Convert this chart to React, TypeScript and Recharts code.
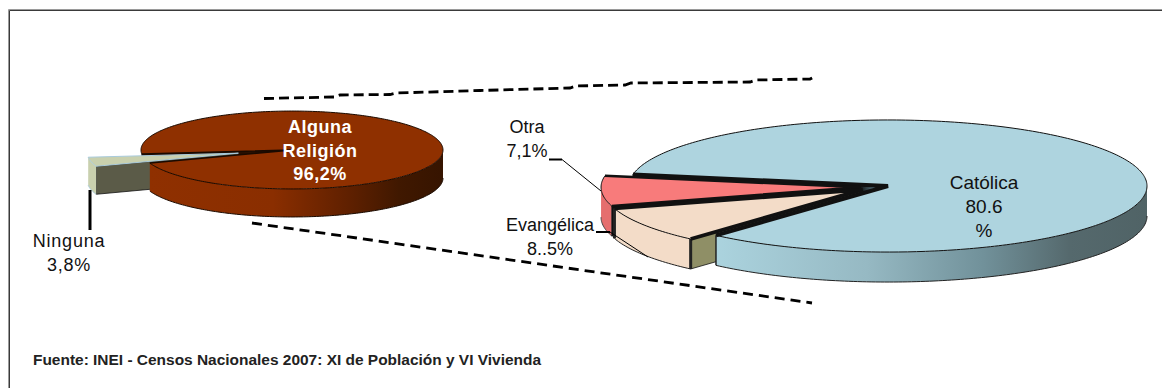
import React from 'react';
import { PieChart, Pie } from 'recharts';

const leftCategories = ['Ninguna', 'Alguna Religión'];
const leftValues = [3.8, 96.2];
const rightCategories = ['Otra', 'Evangélica', 'Católica'];
const rightValues = [7.1, 8.5, 80.6];

const footerText = 'Fuente: INEI - Censos Nacionales 2007: XI de Población y VI Vivienda';

const leftData = leftCategories.map((name, i) => ({ name, value: leftValues[i] }));
const rightData = rightCategories.map((name, i) => ({ name, value: rightValues[i] }));

type SliceStyle = {
  top: string; wall: string; cut: string; explode: number; shiftY: number; edge: string; edgeWidth: number; radial: number; wallEdge: number; wallStroke: string;
};
const styles: Record<string, SliceStyle> = {
  Ninguna: { top: '#c9d0ae', wall: '#c9d0ae', cut: '#5b5b48', explode: 55, shiftY: 0, edge: '#a9cbdc', edgeWidth: 1, radial: 1, wallEdge: 0, wallStroke: '#a9cbdc' },
  'Alguna Religión': { top: '#8f3000', wall: 'url(#wallBrown)', cut: '#2a1000', explode: 0, shiftY: 0, edge: '#1a0a00', edgeWidth: 1, radial: 1.5, wallEdge: 0, wallStroke: '#1a0a00' },
  Otra: { top: '#f87b7b', wall: '#e56e6e', cut: '#111', explode: 28, shiftY: 0.8, edge: '#111', edgeWidth: 1, radial: 2.6, wallEdge: 0, wallStroke: '#444' },
  'Evangélica': { top: '#f3dcc8', wall: '#f3dcc8', cut: '#8f8f66', explode: 30, shiftY: -0.5, edge: '#111', edgeWidth: 1, radial: 3.8, wallEdge: 3, wallStroke: '#222' },
  'Católica': { top: '#aed4df', wall: 'url(#wallBlue)', cut: 'url(#cutBlue)', explode: 0, shiftY: 0, edge: '#111', edgeWidth: 1, radial: 4, wallEdge: 1.5, wallStroke: '#222' },
};

const RAD = Math.PI / 180;

function sliceShape(part: 'cut' | 'wall' | 'top', only: string, squash: number, depth: number) {
  return (p: any) => {
    if (p.name !== only) return <g />;
    const st = styles[p.name];
    const mid = (p.startAngle + p.endAngle) / 2;
    const cx = p.cx + st.explode * Math.cos(mid * RAD);
    const cy = p.cy - st.explode * Math.sin(mid * RAD) * squash + st.shiftY;
    const r = p.outerRadius;
    const pt = (a: number, d = 0): [number, number] => [cx + r * Math.cos(a * RAD), cy - r * Math.sin(a * RAD) * squash + d];
    const arc = (a: number, b: number, d = 0) => {
      const out: [number, number][] = [];
      const n = Math.max(2, Math.ceil(Math.abs(b - a)));
      for (let i = 0; i <= n; i++) out.push(pt(a + ((b - a) * i) / n, d));
      return out;
    };
    const toPath = (pts: [number, number][], close = true) =>
      'M' + pts.map((q) => q[0].toFixed(2) + ' ' + q[1].toFixed(2)).join('L') + (close ? 'Z' : '');

    if (part === 'top') {
      const a = pt(p.startAngle);
      const b = pt(p.endAngle);
      return (
        <g>
          <path d={toPath([[cx, cy], ...arc(p.startAngle, p.endAngle)])} fill={st.top} stroke="none" />
          <path d={toPath(arc(p.startAngle, p.endAngle), false)} fill="none" stroke={st.edge} strokeWidth={st.edgeWidth} />
          <path d={toPath([a, [cx, cy], b], false)} fill="none" stroke={st.edge} strokeWidth={st.radial} strokeLinejoin="miter" />
        </g>
      );
    }
    if (part === 'cut') {
      const q = pt(p.endAngle);
      return (
        <path d={toPath([[cx, cy], q, [q[0], q[1] + depth], [cx, cy + depth]])} fill={st.cut} stroke="#111" strokeWidth={0.8} />
      );
    }
    // outer wall: only the part of the rim that faces the viewer
    const lo = Math.max(p.startAngle, 180);
    const hi = Math.min(p.endAngle, 360);
    const rim = arc(lo, hi);
    const floor = arc(lo, hi, depth).reverse();
    const l = pt(lo);
    const h = pt(hi);
    return (
      <g>
        <path d={toPath([...rim, ...floor])} fill={st.wall} stroke="none" />
        <path d={toPath(floor, false)} fill="none" stroke={st.wallStroke} strokeWidth={1} />
        {st.wallEdge > 0 && (
          <path d={`M${l[0]} ${l[1]}V${l[1] + depth}`} stroke={st.wallStroke} strokeWidth={st.wallEdge} fill="none" />
        )}
        {st.wallEdge > 0 && p.name === 'Evangélica' && (
          <path d={`M${h[0]} ${h[1]}V${h[1] + depth}`} stroke={st.wallStroke} strokeWidth={st.wallEdge} fill="none" />
        )}
      </g>
    );
  };
}

const leftSteps: ['cut' | 'wall' | 'top', string][] = [
  ['cut', 'Alguna Religión'],
  ['cut', 'Ninguna'],
  ['wall', 'Ninguna'],
  ['wall', 'Alguna Religión'],
  ['top', 'Alguna Religión'],
  ['top', 'Ninguna'],
];
const rightSteps: ['cut' | 'wall' | 'top', string][] = [
  ['cut', 'Católica'],
  ['wall', 'Otra'],
  ['cut', 'Otra'],
  ['cut', 'Evangélica'],
  ['wall', 'Evangélica'],
  ['wall', 'Católica'],
  ['top', 'Católica'],
  ['top', 'Otra'],
  ['top', 'Evangélica'],
];

const LEFT = { cx: 292, cy: 150, r: 151, squash: 0.258, depth: 28, start: 186 };
const RIGHT = { cx: 888, cy: 186, r: 259, squash: 0.255, depth: 30, start: 170 };

const sans = '"Liberation Sans", Arial, sans-serif';

function Lines({ x, ys, lines, fill = '#111', weight = 400, spacing = 0, size = 18 }: any) {
  return (
    <>
      {lines.map((t: string, i: number) => (
        <text key={t} x={x} y={ys[i]} textAnchor="middle" fontFamily={sans} fontSize={size} fontWeight={weight} fill={fill} letterSpacing={spacing}>
          {t}
        </text>
      ))}
    </>
  );
}

export default function App() {
  return (
    <div style={{ position: 'absolute', left: 0, top: 0, width: 1162, height: 388, background: '#fff', overflow: 'hidden' }}>
      <svg width={0} height={0} style={{ position: 'absolute' }}>
        <defs>
          <linearGradient id="wallBrown" x1="0" y1="0" x2="1" y2="0">
            <stop offset="0" stopColor="#8f3000" />
            <stop offset="0.42" stopColor="#8a2e00" />
            <stop offset="0.68" stopColor="#5f2000" />
            <stop offset="0.85" stopColor="#401800" />
            <stop offset="1" stopColor="#361400" />
          </linearGradient>
          <linearGradient id="wallBlue" x1="0" y1="0" x2="1" y2="0">
            <stop offset="0" stopColor="#abd3de" />
            <stop offset="0.35" stopColor="#96b9c3" />
            <stop offset="0.62" stopColor="#71919a" />
            <stop offset="0.82" stopColor="#55696d" />
            <stop offset="1" stopColor="#506366" />
          </linearGradient>
          <linearGradient id="cutBlue" x1="0" y1="0" x2="1" y2="0">
            <stop offset="0" stopColor="#111" />
            <stop offset="0.89" stopColor="#111" />
            <stop offset="0.94" stopColor="#4f6a75" />
            <stop offset="1" stopColor="#4f6a75" />
          </linearGradient>
        </defs>
      </svg>
      <div style={{ position: 'absolute', left: 0, top: 0 }}>
        <PieChart width={1162} height={388} margin={{ top: 0, right: 0, bottom: 0, left: 0 }}>
          {leftSteps.map(([part, name], i) => (
            <Pie
              key={'l' + i}
              data={leftData}
              dataKey="value"
              nameKey="name"
              cx={LEFT.cx}
              cy={LEFT.cy}
              innerRadius={0}
              outerRadius={LEFT.r}
              startAngle={LEFT.start}
              endAngle={LEFT.start + 360}
              isAnimationActive={false}
              legendType="none"
              stroke="none"
              label={false}
              labelLine={false}
              shape={sliceShape(part, name, LEFT.squash, LEFT.depth)}
            />
          ))}
          {rightSteps.map(([part, name], i) => (
            <Pie
              key={'r' + i}
              data={rightData}
              dataKey="value"
              nameKey="name"
              cx={RIGHT.cx}
              cy={RIGHT.cy}
              innerRadius={0}
              outerRadius={RIGHT.r}
              startAngle={RIGHT.start}
              endAngle={RIGHT.start + 360}
              isAnimationActive={false}
              legendType="none"
              stroke="none"
              label={false}
              labelLine={false}
              shape={sliceShape(part, name, RIGHT.squash, RIGHT.depth)}
            />
          ))}
        </PieChart>
      </div>
      <svg width={1162} height={388} style={{ position: 'absolute', left: 0, top: 0, pointerEvents: 'none' }}>
        {/* frame: only the top and left sides */}
        <path d="M1162 9.5H8.5V388" fill="none" stroke="#9a9a9a" strokeWidth={1} />
        <path d="M1162 10.5H9.5V388" fill="none" stroke="#3a3a3a" strokeWidth={1} />
        {/* zoom connectors */}
        <path d="M264 98.5L334 97L340 95L390 94.5L396 93L480 90.5L570 88L576 86L625 85L631 83L750 82L756 80L810 79L814 77" fill="none" stroke="#000" strokeWidth={2.8} strokeDasharray="10 5" />
        <path d="M252 223L812 303" fill="none" stroke="#000" strokeWidth={2.8} strokeDasharray="10 6" />
        {/* leader lines */}
        <path d="M90 190V230" stroke="#000" strokeWidth={3} fill="none" />
        <path d="M549 159.5H562" stroke="#000" strokeWidth={2} fill="none" />
        <path d="M562 159.5L601 191" stroke="#000" strokeWidth={1} fill="none" />
        <path d="M596 232H610" stroke="#000" strokeWidth={2} fill="none" />
        <path d="M610 232L648 257" stroke="#000" strokeWidth={1} fill="none" />
        {/* labels */}
        <Lines x={320} ys={[133, 157, 180]} lines={['Alguna', 'Religión', '96,2%']} fill="#fff" weight={700} spacing={0.5} />
        <Lines x={69} ys={[247, 271]} lines={['Ninguna', '3,8%']} spacing={0.8} />
        <Lines x={527} ys={[133, 157]} lines={['Otra', '7,1%']} />
        <Lines x={550} ys={[231, 255]} lines={['Evangélica', '8..5%']} />
        <Lines x={984} ys={[189, 213, 237]} lines={['Católica', '80.6', '%']} size={19} />
        <text x={33} y={365} fontFamily={sans} fontSize={14} fontWeight={700} fill="#222" textLength={508} lengthAdjust="spacingAndGlyphs">
          {footerText}
        </text>
      </svg>
    </div>
  );
}
